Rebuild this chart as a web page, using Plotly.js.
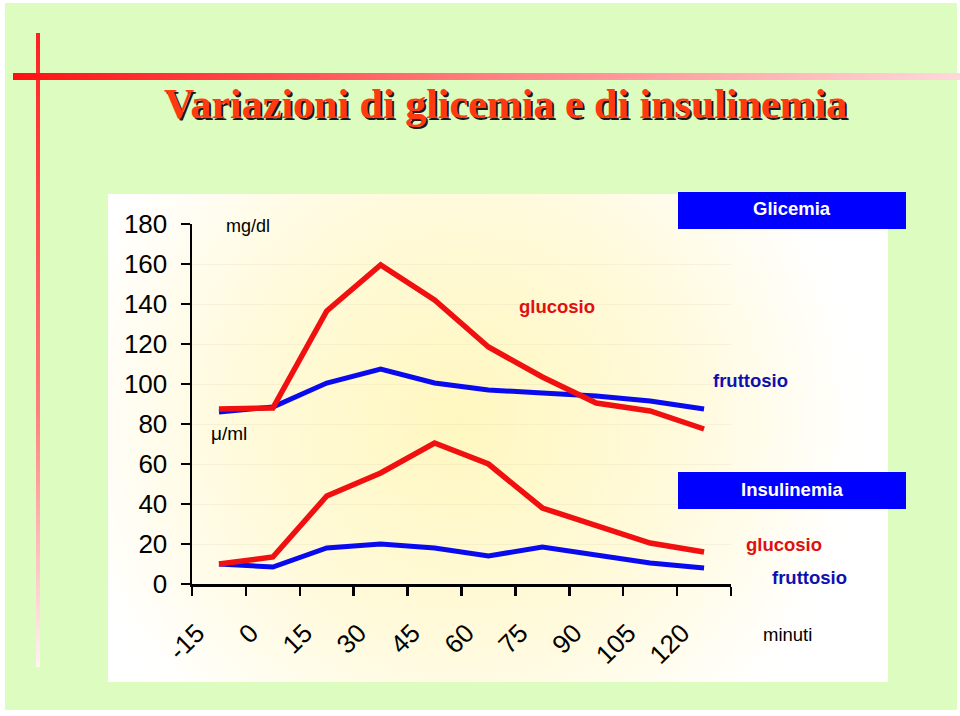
<!DOCTYPE html>
<html>
<head>
<meta charset="utf-8">
<script src="https://cdn.plot.ly/plotly-3.0.1.min.js"></script>
<style>html,body{margin:0;padding:0;background:#fff;}#chart{width:960px;height:716px;}</style>
</head>
<body>
<div id="chart"></div>
<script>
// ---- data ----
const minutes = [-15, 0, 15, 30, 45, 60, 75, 90, 105, 120];
const glicemiaGlucosio = [87.5, 88, 136.5, 159.5, 142, 118.5, 103.5, 90.5, 86.5, 77.5];
const glicemiaFruttosio = [86, 88.5, 100.5, 107.5, 100.5, 97, 95.5, 94, 91.5, 87.5];
const insulinemiaGlucosio = [10, 13.5, 44, 55.5, 70.5, 60, 38, 29.5, 20.5, 16];
const insulinemiaFruttosio = [10, 8.5, 18, 20, 18, 14, 18.5, 14.5, 10.5, 8];
const yTickValues = [0, 20, 40, 60, 80, 100, 120, 140, 160, 180];

// ---- layout helpers (pixel -> paper) ----
const W = 960, H = 716, L = 192, R = 731, T = 224, B = 584;
const fx = p => (p - L) / (R - L);
const fy = p => (B - p) / (B - T);

const step = minutes[1] - minutes[0];
const tickVals = minutes.map(m => m - step / 2).concat([minutes[minutes.length - 1] + step / 2]);
const tickText = minutes.map(String).concat(['']);

const bgSvg = `<svg xmlns="http://www.w3.org/2000/svg" width="960" height="716" viewBox="0 0 960 716">
<defs>
<radialGradient id="rg" cx="460" cy="420" r="400" gradientUnits="userSpaceOnUse">
<stop offset="0" stop-color="#fff7bf"/><stop offset="0.55" stop-color="#fffadb"/><stop offset="1" stop-color="#ffffff"/>
</radialGradient>
<linearGradient id="hg" x1="0" y1="0" x2="1" y2="0">
<stop offset="0" stop-color="#ff1010"/><stop offset="0.5" stop-color="#ff8080"/><stop offset="1" stop-color="#ffd8dc"/>
</linearGradient>
<linearGradient id="vg" x1="0" y1="0" x2="0" y2="1">
<stop offset="0" stop-color="#ff2020"/><stop offset="0.6" stop-color="#ff8080"/><stop offset="1" stop-color="#fff4f4"/>
</linearGradient>
</defs>
<rect x="0" y="0" width="960" height="716" fill="#ffffff"/>
<rect x="5" y="3" width="952" height="707" fill="#ddfcc0"/>
<rect x="36" y="33" width="4" height="634" fill="url(#vg)"/>
<rect x="13" y="73" width="947" height="7" fill="url(#hg)"/>
<rect x="108" y="194" width="780" height="488" fill="url(#rg)"/>
</svg>`;
const bgUri = 'data:image/svg+xml;charset=utf-8,' + encodeURIComponent(bgSvg);

const lineTrace = (y, color, width) => ({
  x: minutes, y: y, type: 'scatter', mode: 'lines',
  line: {color: color, width: width, shape: 'linear'},
  cliponaxis: false, hoverinfo: 'skip', showlegend: false
});

const traces = [
  lineTrace(glicemiaFruttosio, '#0a0aee', 5),
  lineTrace(glicemiaGlucosio, '#f01010', 5.5),
  lineTrace(insulinemiaFruttosio, '#0a0aee', 5),
  lineTrace(insulinemiaGlucosio, '#f01010', 5.5)
];

const sans = 'Arial, "Liberation Sans", sans-serif';
const serif = '"Times New Roman", "Liberation Serif", serif';

function txt(text, x, y, size, color, opts) {
  return Object.assign({
    text: text, xref: 'paper', yref: 'paper', x: fx(x), y: fy(y),
    xanchor: 'center', yanchor: 'middle', showarrow: false,
    font: {family: sans, size: size, color: color}
  }, opts || {});
}

const annotations = [
  txt('<b>Variazioni di glicemia e di insulinemia</b>', 505, 104, 42, '#ff3a10',
      {font: {family: serif, size: 42, color: '#ff3a10', shadow: '2px 2px 0px #1a1a1a'}}),
  txt('mg/dl', 248, 226, 18, '#000000'),
  txt('\u03bc/ml', 229, 433, 19, '#000000'),
  txt('<b>glucosio</b>', 557, 306, 18.5, '#e01010'),
  txt('<b>fruttosio</b>', 750, 380, 18.5, '#1010b0'),
  txt('<b>Glicemia</b>', 792, 209, 18.5, '#ffffff'),
  txt('<b>Insulinemia</b>', 792, 489, 18.5, '#ffffff'),
  txt('<b>glucosio</b>', 784, 544, 18.5, '#e01010'),
  txt('<b>fruttosio</b>', 809, 577, 18.5, '#1010b0'),
  txt('minuti', 787, 634, 18.5, '#000000')
];

const shapes = [
  {type: 'rect', xref: 'paper', yref: 'paper', x0: fx(678), x1: fx(906), y0: fy(192), y1: fy(229),
   fillcolor: '#0000ff', line: {width: 0}, layer: 'above'},
  {type: 'rect', xref: 'paper', yref: 'paper', x0: fx(678), x1: fx(906), y0: fy(472), y1: fy(509),
   fillcolor: '#0000ff', line: {width: 0}, layer: 'above'}
];

const layout = {
  width: W, height: H,
  margin: {l: L, r: W - R, t: T, b: H - B, pad: 0},
  paper_bgcolor: 'rgba(0,0,0,0)', plot_bgcolor: 'rgba(0,0,0,0)',
  showlegend: false,
  images: [{source: bgUri, xref: 'paper', yref: 'paper', x: fx(0), y: fy(0),
            sizex: W / (R - L), sizey: H / (B - T), sizing: 'stretch',
            xanchor: 'left', yanchor: 'top', layer: 'below'}],
  xaxis: {
    range: [minutes[0] - step / 2, minutes[minutes.length - 1] + step / 2],
    tickmode: 'array', tickvals: tickVals, ticktext: tickText,
    tickangle: -45, ticks: 'outside', ticklen: 9, tickwidth: 2.5, tickcolor: '#000',
    showline: true, linecolor: '#000', linewidth: 2.5, showgrid: false, zeroline: false,
    ticklabelstandoff: 12, ticklabelshift: 5,
    tickfont: {family: sans, size: 26, color: '#000'}, fixedrange: true
  },
  yaxis: {
    range: [0, 180], tickmode: 'array', tickvals: yTickValues,
    ticks: 'outside', ticklen: 9, tickwidth: 2.5, tickcolor: '#000',
    showline: true, linecolor: '#000', linewidth: 2.5,
    showgrid: true, gridcolor: 'rgba(200,200,170,0.18)', gridwidth: 1, zeroline: false,
    ticklabelstandoff: 8,
    tickfont: {family: sans, size: 26, color: '#000'}, fixedrange: true
  },
  annotations: annotations,
  shapes: shapes
};

Plotly.newPlot('chart', traces, layout, {displayModeBar: false, staticPlot: true});
</script>
</body>
</html>
